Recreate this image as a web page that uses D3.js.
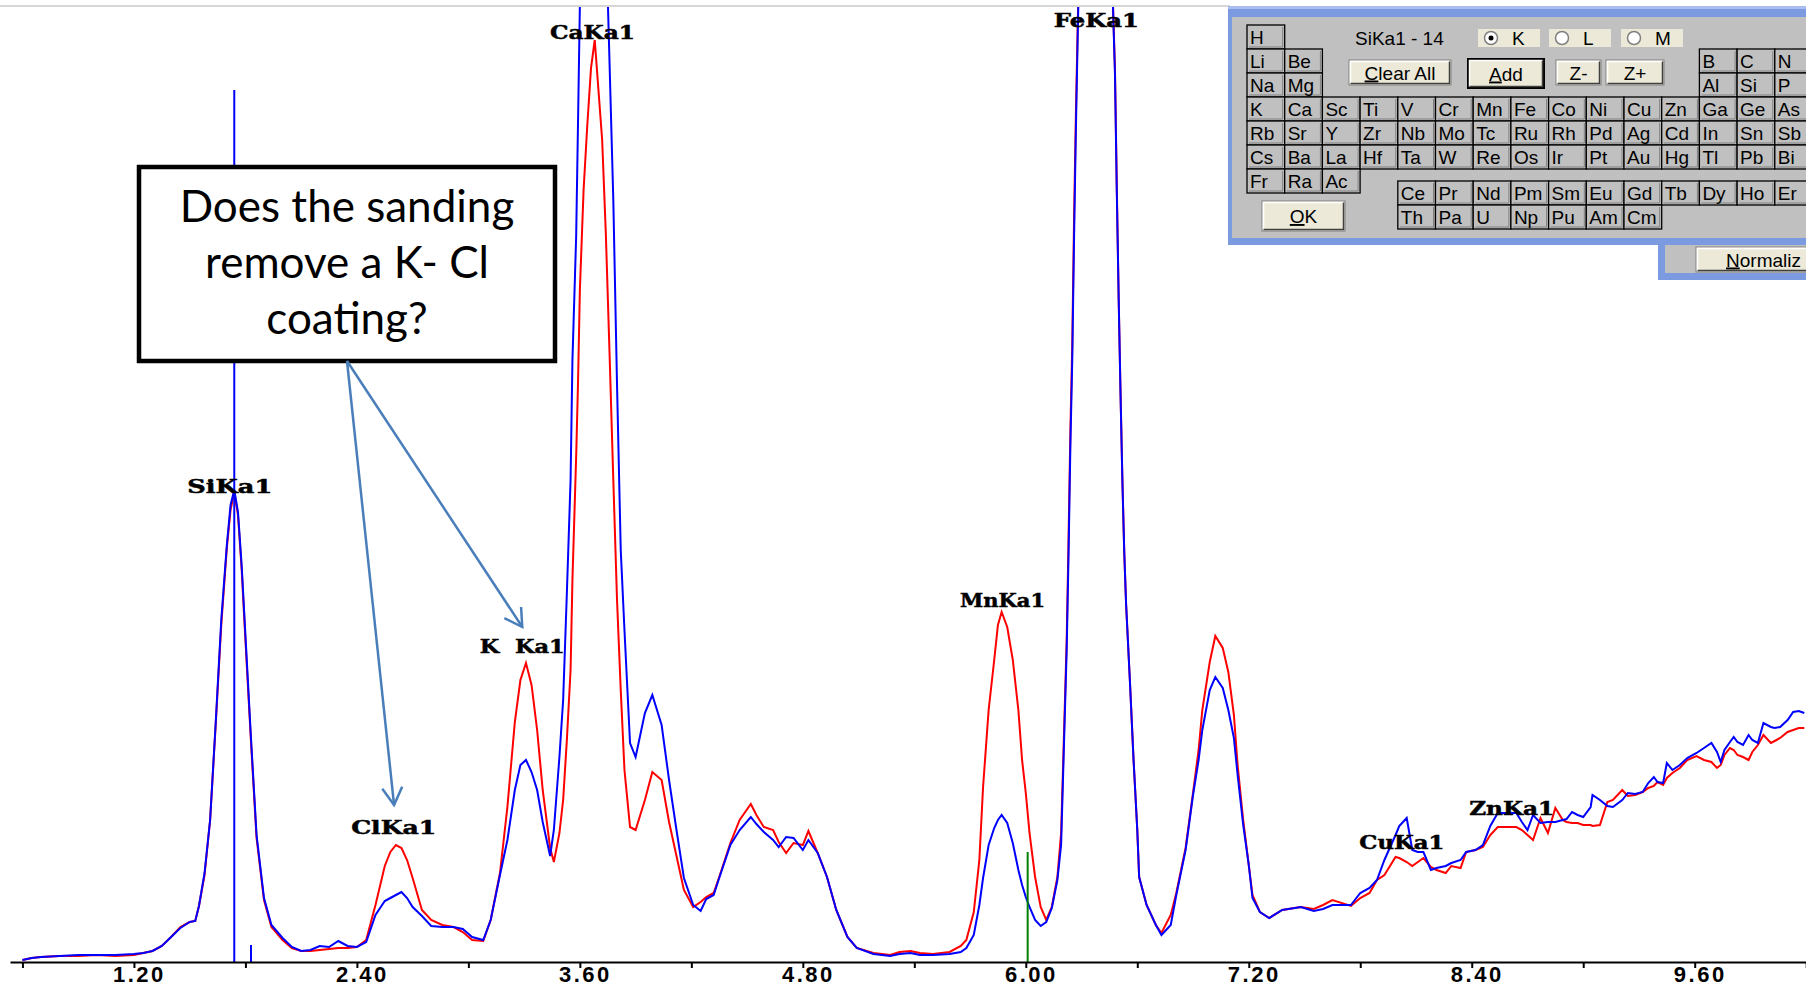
<!DOCTYPE html>
<html>
<head>
<meta charset="utf-8">
<script src="https://cdn.jsdelivr.net/npm/d3@7"></script>
<style>
  body { margin: 0; background: white; }
  svg { display: block; }
</style>
</head>
<body>
<div id="spectrum"></div>
<script>
// Energy channels (keV), shared by both spectra
const energyKeV = [
  0.60, 0.65, 0.70, 0.80, 0.90, 1.00, 1.10, 1.20, 1.25, 1.30, 1.35, 1.40, 1.45, 1.50, 1.53, 1.55, 1.58, 1.61, 1.64, 1.67,
  1.70, 1.72, 1.74, 1.76, 1.78, 1.80, 1.83, 1.86, 1.90, 1.94, 2.00, 2.05, 2.10, 2.15, 2.20, 2.25, 2.30, 2.35, 2.40, 2.45,
  2.50, 2.55, 2.58, 2.61, 2.64, 2.67, 2.70, 2.75, 2.80, 2.86, 2.92, 2.97, 3.02, 3.08, 3.12, 3.17, 3.21, 3.25, 3.28, 3.31,
  3.34, 3.37, 3.40, 3.44, 3.46, 3.49, 3.51, 3.53, 3.55, 3.56, 3.58, 3.59, 3.60, 3.62, 3.64, 3.66, 3.68, 3.70, 3.72, 3.74,
  3.76, 3.78, 3.80, 3.82, 3.84, 3.87, 3.90, 3.95, 3.99, 4.04, 4.08, 4.12, 4.16, 4.21, 4.25, 4.28, 4.32, 4.35, 4.41, 4.46,
  4.52, 4.55, 4.59, 4.64, 4.67, 4.71, 4.75, 4.80, 4.83, 4.88, 4.93, 4.98, 5.04, 5.09, 5.18, 5.27, 5.32, 5.38, 5.43, 5.50,
  5.59, 5.65, 5.68, 5.72, 5.75, 5.77, 5.80, 5.83, 5.85, 5.87, 5.90, 5.93, 5.96, 5.98, 6.00, 6.02, 6.05, 6.08, 6.11, 6.14,
  6.17, 6.19, 6.20, 6.22, 6.23, 6.24, 6.25, 6.26, 6.27, 6.28, 6.30, 6.33, 6.36, 6.39, 6.42, 6.45, 6.47, 6.48, 6.49, 6.50,
  6.51, 6.52, 6.53, 6.54, 6.56, 6.58, 6.60, 6.61, 6.65, 6.70, 6.73, 6.78, 6.81, 6.86, 6.90, 6.93, 6.95, 6.99, 7.02, 7.06,
  7.09, 7.12, 7.14, 7.17, 7.20, 7.22, 7.26, 7.31, 7.38, 7.48, 7.55, 7.60, 7.65, 7.75, 7.80, 7.85, 7.89, 7.93, 7.99, 8.01,
  8.05, 8.08, 8.11, 8.14, 8.18, 8.21, 8.26, 8.29, 8.34, 8.37, 8.42, 8.46, 8.50, 8.54, 8.59, 8.64, 8.67, 8.70, 8.73, 8.77,
  8.81, 8.85, 8.89, 8.91, 8.94, 8.97, 9.00, 9.04, 9.05, 9.09, 9.13, 9.16, 9.21, 9.24, 9.28, 9.32, 9.35, 9.38, 9.40, 9.43,
  9.45, 9.48, 9.52, 9.56, 9.61, 9.65, 9.69, 9.72, 9.74, 9.76, 9.79, 9.81, 9.83, 9.86, 9.89, 9.91, 9.94, 9.97, 10.01, 10.03,
  10.06, 10.10, 10.13, 10.16, 10.19
];

// Red trace (before sanding), counts
const countsUnsanded = [
  1, 3, 4, 5, 5, 6, 5, 6, 8, 10, 15, 24, 34, 39, 40, 55, 86, 141, 236, 336,
  413, 451, 469, 446, 391, 321, 219, 123, 61, 34, 21, 13, 10, 10, 11, 12, 13, 13, 14, 21,
  56, 95, 109, 116, 113, 101, 83, 51, 41, 36, 34, 29, 21, 20, 41, 88, 154, 239, 281, 298,
  276, 231, 171, 113, 99, 128, 161, 221, 291, 381, 504, 578, 671, 771, 836, 893, 921, 871, 821, 726,
  606, 481, 361, 271, 191, 134, 131, 161, 189, 181, 139, 105, 71, 54, 59, 64, 68, 84, 118, 141,
  157, 146, 134, 131, 119, 108, 118, 116, 130, 108, 84, 51, 24, 13, 8, 6, 9, 10, 8, 7,
  9, 15, 21, 49, 101, 174, 251, 301, 336, 349, 334, 301, 251, 201, 168, 128, 84, 54, 41, 54,
  84, 128, 191, 321, 421, 531, 616, 746, 851, 941, 1150, 1500, 1700, 1700, 1500, 1150, 951, 891, 771, 661,
  566, 479, 408, 356, 281, 201, 131, 84, 56, 36, 28, 46, 68, 113, 168, 211, 251, 299, 325, 313,
  289, 246, 196, 141, 96, 66, 49, 43, 51, 54, 52, 56, 61, 55, 63, 68, 81, 86, 104, 103,
  99, 95, 99, 103, 94, 91, 88, 95, 93, 109, 111, 114, 126, 134, 134, 134, 131, 126, 121, 143,
  128, 153, 141, 139, 138, 138, 136, 136, 135, 136, 159, 161, 171, 165, 166, 169, 173, 175, 179, 176,
  183, 188, 193, 201, 205, 201, 199, 193, 196, 206, 213, 211, 206, 204, 201, 209, 216, 226, 218, 220,
  223, 229, 231, 233, 233
];

// Blue trace (after sanding), counts
const countsSanded = [
  1, 3, 4, 5, 6, 6, 6, 7, 8, 10, 15, 24, 33, 39, 40, 55, 88, 141, 238, 341,
  416, 456, 471, 449, 395, 326, 223, 126, 63, 36, 23, 14, 10, 11, 15, 14, 20, 15, 14, 19,
  46, 60, 63, 66, 69, 63, 54, 45, 35, 34, 34, 32, 24, 21, 41, 86, 121, 171, 196, 201,
  189, 171, 139, 105, 131, 204, 261, 368, 481, 601, 724, 838, 955, 1180, 1350, 1450, 1470, 1400, 1250, 1030,
  896, 761, 576, 411, 331, 218, 204, 248, 266, 236, 181, 131, 83, 56, 50, 62, 66, 83, 116, 131,
  144, 137, 129, 121, 114, 124, 123, 111, 121, 108, 84, 51, 24, 13, 7, 5, 7, 8, 6, 6,
  7, 9, 13, 26, 56, 83, 116, 133, 141, 146, 138, 118, 91, 76, 64, 54, 41, 35, 39, 53,
  81, 116, 181, 311, 406, 516, 601, 726, 836, 931, 1120, 1470, 1680, 1690, 1480, 1120, 949, 886, 766, 661,
  566, 479, 408, 356, 281, 201, 131, 84, 56, 36, 26, 36, 66, 111, 166, 201, 231, 271, 284, 273,
  251, 223, 186, 136, 96, 63, 49, 43, 51, 54, 50, 52, 56, 56, 68, 73, 81, 101, 126, 135,
  143, 111, 109, 109, 91, 93, 95, 98, 101, 109, 111, 116, 135, 148, 148, 148, 139, 131, 146, 138,
  139, 139, 141, 142, 149, 146, 144, 154, 166, 161, 155, 154, 161, 168, 167, 169, 178, 184, 179, 178,
  198, 191, 196, 203, 208, 213, 218, 209, 199, 211, 219, 224, 219, 216, 226, 221, 218, 238, 234, 233,
  234, 241, 249, 250, 248
];

// Axis ticks and labelled ticks (keV)
const tickValues = [0.6, 1.2, 1.8, 2.4, 3.0, 3.6, 4.2, 4.8, 5.4, 6.0, 6.6, 7.2, 7.8, 8.4, 9.0, 9.6, 10.2];
const labelledTicks = [1.2, 2.4, 3.6, 4.8, 6.0, 7.2, 8.4, 9.6];

// Peak markers
const peakNames = ['SiKa1', 'ClKa1', 'K  Ka1', 'CaKa1', 'MnKa1', 'FeKa1', 'CuKa1', 'ZnKa1'];
const peakEnergies = [1.740, 2.622, 3.314, 3.692, 5.899, 6.404, 8.048, 8.639];
const peakLabelCounts = [468, 127, 308, 922, 354, 934, 112, 146];

// Cursor lines: energy, top (counts), colour
const cursorEnergies = [1.74, 1.83, 6.01];
const cursorTops = [871, 16, 109];
const cursorColors = ['#0000ff', '#0000ff', '#008000'];

// Callout
const calloutLines = ['Does the sanding', 'remove a K- Cl', 'coating?'];
const arrowEnergies = [2.60, 3.29];
const arrowCounts = [156, 334];

// Element picker
const tableRows = [
  ['H'],
  ['Li', 'Be', null, null, null, null, null, null, null, null, null, null, 'B', 'C', 'N'],
  ['Na', 'Mg', null, null, null, null, null, null, null, null, null, null, 'Al', 'Si', 'P'],
  ['K', 'Ca', 'Sc', 'Ti', 'V', 'Cr', 'Mn', 'Fe', 'Co', 'Ni', 'Cu', 'Zn', 'Ga', 'Ge', 'As'],
  ['Rb', 'Sr', 'Y', 'Zr', 'Nb', 'Mo', 'Tc', 'Ru', 'Rh', 'Pd', 'Ag', 'Cd', 'In', 'Sn', 'Sb'],
  ['Cs', 'Ba', 'La', 'Hf', 'Ta', 'W', 'Re', 'Os', 'Ir', 'Pt', 'Au', 'Hg', 'Tl', 'Pb', 'Bi'],
  ['Fr', 'Ra', 'Ac']
];
const lanthanides = ['Ce', 'Pr', 'Nd', 'Pm', 'Sm', 'Eu', 'Gd', 'Tb', 'Dy', 'Ho', 'Er'];
const actinides = ['Th', 'Pa', 'U', 'Np', 'Pu', 'Am', 'Cm'];

let width = 1806, height = 987;

let svg = d3.select('#spectrum')
            .append('svg')
            .attr('width', width)
            .attr('height', height)
            .style('background', 'white');

let xScale = d3.scaleLinear()
            .domain([0.533, 10.199])
            .range([10, 1806]);

let yScale = d3.scaleLinear()
            .domain([0, 955])
            .range([961, 6]);

const axisY = 962;

// Top frame line
svg.append('line')
    .attr('x1', 0).attr('x2', 1230)
    .attr('y1', 6).attr('y2', 6)
    .attr('stroke', '#c8c8c8')
    .attr('stroke-width', 1.5);

// Clip for the plot area
svg.append('clipPath').attr('id', 'plot-clip')
    .append('rect')
    .attr('x', 10).attr('y', 7)
    .attr('width', 1796).attr('height', axisY - 7);

// Spectra
const line = d3.line()
    .x((d, i) => xScale(energyKeV[i]))
    .y(d => yScale(d));

const plot = svg.append('g').attr('clip-path', 'url(#plot-clip)');

plot.append('path')
    .datum(countsUnsanded)
    .attr('d', line)
    .attr('fill', 'none')
    .attr('stroke', '#ff0000')
    .attr('stroke-width', 2);

plot.append('path')
    .datum(countsSanded)
    .attr('d', line)
    .attr('fill', 'none')
    .attr('stroke', '#0000ff')
    .attr('stroke-width', 2);

// Cursor lines
svg.selectAll('.cursor')
    .data(cursorEnergies)
    .enter().append('line')
    .attr('class', 'cursor')
    .attr('x1', d => xScale(d))
    .attr('x2', d => xScale(d))
    .attr('y1', (d, i) => yScale(cursorTops[i]))
    .attr('y2', axisY)
    .attr('stroke', (d, i) => cursorColors[i])
    .attr('stroke-width', 2);

// X axis
let xAxis = svg.append('g')
    .attr('transform', `translate(0, ${axisY})`)
    .call(d3.axisBottom(xScale)
        .tickValues(tickValues)
        .tickSize(6)
        .tickSizeOuter(0)
        .tickFormat(d => labelledTicks.includes(d) ? d.toFixed(2) : ''));

xAxis.select('.domain').attr('stroke', '#000').attr('stroke-width', 2);
xAxis.selectAll('.tick line').attr('stroke', '#000').attr('stroke-width', 2);
xAxis.selectAll('.tick text')
    .attr('y', 20)
    .attr('dy', 0)
    .attr('dx', 5)
    .attr('fill', '#000')
    .style('font-family', "'Liberation Sans Narrow', 'Liberation Sans', sans-serif")
    .style('font-weight', 'bold')
    .style('font-size', '22px')
    .style('letter-spacing', '2.5px');

// Peak labels
svg.selectAll('.peak-label')
    .data(peakNames)
    .enter().append('text')
    .attr('class', 'peak-label')
    .attr('x', (d, i) => xScale(peakEnergies[i]) - 47)
    .attr('y', (d, i) => yScale(peakLabelCounts[i]))
    .attr('textLength', 85)
    .attr('lengthAdjust', 'spacingAndGlyphs')
    .attr('stroke', '#000')
    .attr('stroke-width', 0.5)
    .style('font-family', "'DejaVu Serif', serif")
    .style('font-weight', 'bold')
    .style('font-size', '19px')
    .style('white-space', 'pre')
    .text(d => d);

// Callout box
const box = {x: 139, y: 167, w: 416, h: 194};
svg.append('rect')
    .attr('x', box.x).attr('y', box.y)
    .attr('width', box.w).attr('height', box.h)
    .attr('fill', 'white')
    .attr('stroke', '#000')
    .attr('stroke-width', 4.5);

svg.selectAll('.callout-text')
    .data(calloutLines)
    .enter().append('text')
    .attr('class', 'callout-text')
    .attr('x', box.x + box.w / 2)
    .attr('y', (d, i) => 222 + i * 56)
    .attr('text-anchor', 'middle')
    .style('font-family', "Lato, 'Open Sans', sans-serif")
    .style('font-size', '44px')
    .text(d => d);

// Arrows from the box to the K and Cl peaks
const arrowStart = [box.x + box.w / 2, box.y + box.h];
arrowEnergies.forEach((e, i) => {
    const tx = xScale(e), ty = yScale(arrowCounts[i]);
    const ang = Math.atan2(ty - arrowStart[1], tx - arrowStart[0]);
    const len = 20, spread = Math.PI / 6;
    const a1 = [tx - len * Math.cos(ang - spread), ty - len * Math.sin(ang - spread)];
    const a2 = [tx - len * Math.cos(ang + spread), ty - len * Math.sin(ang + spread)];
    svg.append('line')
        .attr('x1', arrowStart[0]).attr('y1', arrowStart[1])
        .attr('x2', tx).attr('y2', ty)
        .attr('stroke', '#4a7ebb')
        .attr('stroke-width', 2.5);
    svg.append('path')
        .attr('d', `M${a1[0]},${a1[1]}L${tx},${ty}L${a2[0]},${a2[1]}`)
        .attr('fill', 'none')
        .attr('stroke', '#4a7ebb')
        .attr('stroke-width', 2.5);
});

// Element picker dialog (screen overlay)
const uiFont = "'Liberation Sans', Arial, sans-serif";
const uiSize = '19px';
const frameBlue = '#7b9ae0';
const face = '#c0c0c0';
const btnFace = '#ece9d8';

// window behind the dialog
svg.append('rect').attr('x', 1658).attr('y', 230).attr('width', 150).attr('height', 50).attr('fill', frameBlue);
svg.append('rect').attr('x', 1665).attr('y', 230).attr('width', 145).attr('height', 43).attr('fill', face);

function button(g, x, y, w, h, label, under, isDefault, leftAlign) {
    g.append('rect').attr('x', x).attr('y', y).attr('width', w).attr('height', h)
        .attr('fill', btnFace)
        .attr('stroke', isDefault ? '#000' : '#808080')
        .attr('stroke-width', isDefault ? 2 : 1);
    g.append('path')
        .attr('d', `M${x + 1.5},${y + h - 1.5}V${y + 1.5}H${x + w - 1.5}`)
        .attr('fill', 'none').attr('stroke', '#fff').attr('stroke-width', 1.5);
    g.append('path')
        .attr('d', `M${x + 1.5},${y + h - 1.5}H${x + w - 1.5}V${y + 1.5}`)
        .attr('fill', 'none').attr('stroke', '#404040').attr('stroke-width', 1.5);
    const t = g.append('text')
        .attr('x', leftAlign ? x + leftAlign : x + w / 2).attr('y', y + h / 2 + 7)
        .attr('text-anchor', leftAlign ? 'start' : 'middle')
        .style('font-family', uiFont).style('font-size', uiSize);
    if (under >= 0) {
        t.append('tspan').style('text-decoration', 'underline').text(label.charAt(under));
        t.append('tspan').text(label.slice(under + 1));
    } else {
        t.text(label);
    }
}

const normal = svg.append('g');
button(normal, 1696, 247, 115, 25, 'Normaliz', 0, false, 30);

const dlg = svg.append('g');
dlg.append('rect').attr('x', 1228).attr('y', 6).attr('width', 580).attr('height', 239).attr('fill', frameBlue);
dlg.append('rect').attr('x', 1228).attr('y', 6).attr('width', 580).attr('height', 3).attr('fill', '#a9bdf0');
dlg.append('rect').attr('x', 1232).attr('y', 17).attr('width', 576).attr('height', 221).attr('fill', face);

const colX = i => 1247 + 37.7 * i;
const cellW = 37.7, cellH = 24;

function cell(g, x, y, sym) {
    g.append('rect').attr('x', x).attr('y', y).attr('width', cellW).attr('height', cellH)
        .attr('fill', face).attr('stroke', '#000').attr('stroke-width', 1.3);
    g.append('path')
        .attr('d', `M${x + 2},${y + cellH - 2}H${x + cellW - 2}V${y + 2}`)
        .attr('fill', 'none').attr('stroke', '#808080').attr('stroke-width', 1);
    g.append('text').attr('x', x + 3).attr('y', y + 19)
        .style('font-family', uiFont).style('font-size', uiSize)
        .text(sym);
}

tableRows.forEach((row, r) => {
    row.forEach((sym, c) => {
        if (sym) cell(dlg, colX(c), 25 + r * cellH, sym);
    });
});
lanthanides.forEach((sym, c) => cell(dlg, colX(c + 4), 181, sym));
actinides.forEach((sym, c) => cell(dlg, colX(c + 4), 205, sym));

dlg.append('text').attr('x', 1355).attr('y', 45)
    .style('font-family', uiFont).style('font-size', uiSize)
    .text('SiKa1 - 14');

const radios = [{x: 1478, label: 'K', on: true}, {x: 1549, label: 'L', on: false}, {x: 1621, label: 'M', on: false}];
radios.forEach(r => {
    dlg.append('rect').attr('x', r.x).attr('y', 29).attr('width', 62).attr('height', 18).attr('fill', btnFace);
    dlg.append('circle').attr('cx', r.x + 13).attr('cy', 38).attr('r', 6.5)
        .attr('fill', '#fff').attr('stroke', '#808080').attr('stroke-width', 1.5);
    if (r.on) dlg.append('circle').attr('cx', r.x + 13).attr('cy', 38).attr('r', 2.5).attr('fill', '#000');
    dlg.append('text').attr('x', r.x + 34).attr('y', 45)
        .style('font-family', uiFont).style('font-size', uiSize)
        .text(r.label);
});

button(dlg, 1349, 60, 102, 25, 'Clear All', 0, false);
button(dlg, 1468, 59, 76, 29, 'Add', 0, true);
button(dlg, 1556, 60, 45, 25, 'Z-', -1, false);
button(dlg, 1606, 60, 58, 25, 'Z+', -1, false);
button(dlg, 1262, 201, 83, 30, 'OK', 0, false);
</script>
</body>
</html>
